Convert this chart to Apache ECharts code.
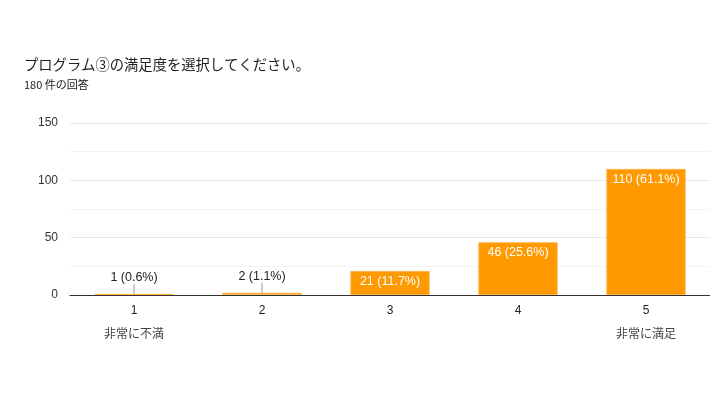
<!DOCTYPE html>
<html>
<head>
<meta charset="utf-8">
<script src="https://cdn.jsdelivr.net/npm/echarts@6/dist/echarts.min.js"></script>
<style>
html,body{margin:0;padding:0;background:#fff;}
#chart{width:710px;height:399px;}
</style>
</head>
<body>
<div id="chart"></div>
<script>
// 満足度の回答データ
var categories = ['1', '2', '3', '4', '5'];
var counts = [1, 2, 21, 46, 110];
var percents = ['0.6%', '1.1%', '11.7%', '25.6%', '61.1%'];
var endLabels = {'1': '非常に不満', '5': '非常に満足'};
var yTicks = [0, 50, 100, 150];

var fontFamily = '"Liberation Sans", Arial, "Noto Sans CJK JP", sans-serif';

// 件数が少ない棒はラベルを上に出す
function seriesData() {
    var arr = [];
    for (var i = 0; i < counts.length; i++) {
        var item = {value: counts[i]};
        if (counts[i] < 10) {
            item.label = {
                position: 'top',
                distance: 4,
                color: '#222'
            };
        }
        arr.push(item);
    }
    return arr;
}

var chart = echarts.init(document.getElementById('chart'));
var option = {
    backgroundColor: '#fff',
    animation: false,
    title: {
        text: 'プログラム③の満足度を選択してください。',
        subtext: '180 件の回答',
        left: 19,
        top: 52,
        itemGap: 8,
        textStyle: {
            fontFamily: '"Noto Sans CJK JP", sans-serif',
            fontSize: 14.3,
            fontWeight: 'normal',
            color: '#202124'
        },
        subtextStyle: {
            fontFamily: '"Noto Sans CJK JP", sans-serif',
            fontSize: 11,
            color: '#202124'
        }
    },
    grid: {
        left: 70,
        right: 0,
        top: 123,
        bottom: 104
    },
    xAxis: {
        type: 'category',
        data: categories,
        axisTick: {show: false},
        axisLine: {lineStyle: {color: '#333', width: 1}},
        axisLabel: {
            margin: 9,
            formatter: function (v) {
                if (endLabels[v]) {
                    return '{n|' + v + '}\n{t|' + endLabels[v] + '}';
                }
                return '{n|' + v + '}';
            },
            rich: {
                n: {fontFamily: fontFamily, fontSize: 12, color: '#222', lineHeight: 14},
                t: {fontFamily: '"Noto Sans CJK JP", sans-serif', fontSize: 12, color: '#444', lineHeight: 14, padding: [17, 0, 0, 0]}
            }
        }
    },
    yAxis: {
        type: 'value',
        min: yTicks[0],
        max: yTicks[yTicks.length - 1],
        interval: 50,
        axisLine: {show: false},
        axisTick: {show: false},
        axisLabel: {
            margin: 12,
            fontFamily: fontFamily,
            fontSize: 12,
            color: '#333'
        },
        splitLine: {lineStyle: {color: '#e8e8e8'}},
        minorTick: {show: false, splitNumber: 2},
        minorSplitLine: {show: true, lineStyle: {color: '#f3f3f3'}}
    },
    series: [{
        type: 'bar',
        data: seriesData(),
        barWidth: '62%',
        itemStyle: {
            color: '#ff9900',
            borderColor: '#ffb347',
            borderWidth: 1
        },
        label: {
            show: true,
            position: 'insideTop',
            distance: 4,
            fontFamily: fontFamily,
            fontSize: 12.5,
            color: '#fff',
            formatter: function (p) {
                return p.value + ' (' + percents[p.dataIndex] + ')';
            }
        },
        labelLine: {
            show: true,
            length2: 0,
            lineStyle: {color: '#999', width: 1}
        },
        labelLayout: function (p) {
            if (counts[p.dataIndex] < 10) {
                return {dy: -6};
            }
        }
    }]
};
chart.setOption(option);
</script>
</body>
</html>
